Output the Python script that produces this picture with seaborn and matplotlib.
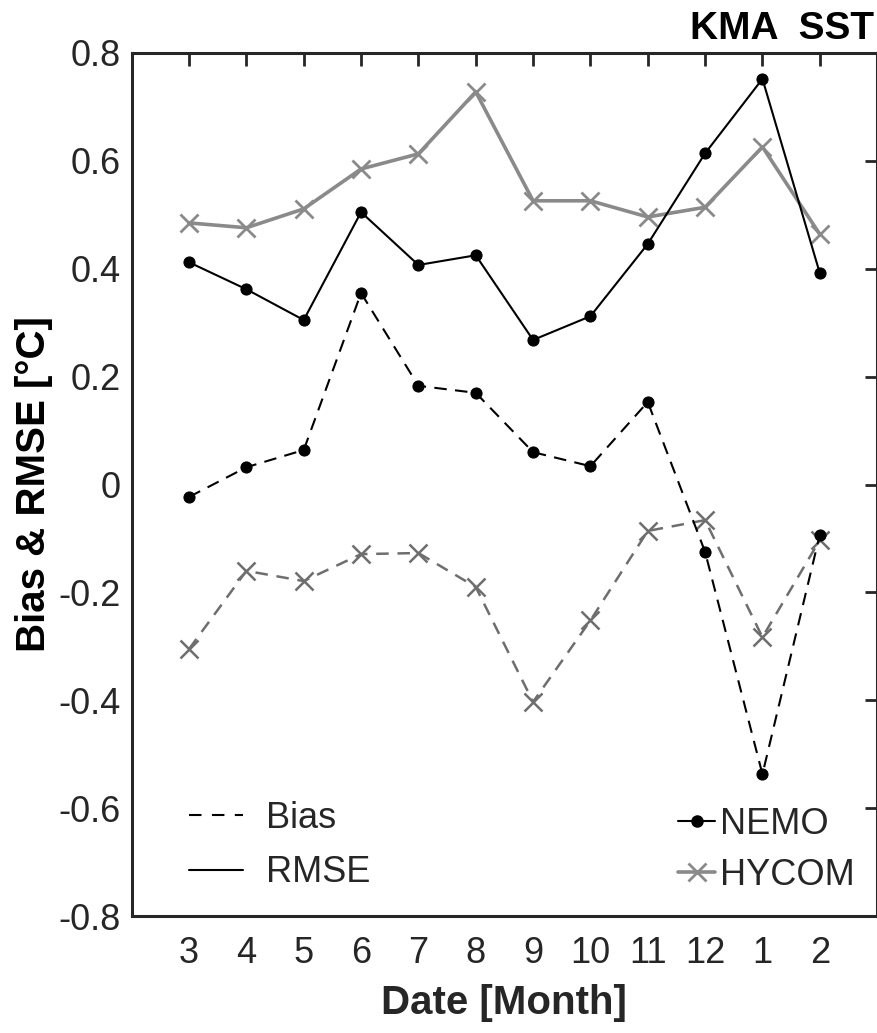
import matplotlib
matplotlib.use("Agg")
import matplotlib.pyplot as plt
import seaborn as sns
import numpy as np
import pandas as pd
from matplotlib.lines import Line2D

months = ["3", "4", "5", "6", "7", "8", "9", "10", "11", "12", "1", "2"]
nemo_rmse = [0.412, 0.362, 0.305, 0.505, 0.407, 0.425, 0.268, 0.312, 0.446, 0.614, 0.752, 0.392]
hycom_rmse = [0.485, 0.476, 0.511, 0.585, 0.613, 0.728, 0.526, 0.526, 0.496, 0.514, 0.626, 0.464]
nemo_bias = [-0.023, 0.032, 0.064, 0.355, 0.183, 0.170, 0.060, 0.034, 0.153, -0.125, -0.537, -0.093]
hycom_bias = [-0.305, -0.160, -0.179, -0.129, -0.127, -0.190, -0.403, -0.252, -0.086, -0.066, -0.283, -0.103]
yticks = [-0.8, -0.6, -0.4, -0.2, 0, 0.2, 0.4, 0.6, 0.8]
ytick_labels = ["-0.8", "-0.6", "-0.4", "-0.2", "0", "0.2", "0.4", "0.6", "0.8"]

sns.set_theme(style="white")
plt.rcParams['font.family'] = ['Liberation Sans', 'DejaVu Sans']

fig = plt.figure(figsize=(8.78, 10.33), dpi=100)
ax = fig.add_axes([0.150, 0.1132, 0.849, 0.8355])

pos = np.arange(1, len(months) + 1)
df = pd.DataFrame({"pos": pos, "nemo_rmse": nemo_rmse, "hycom_rmse": hycom_rmse,
                   "nemo_bias": nemo_bias, "hycom_bias": hycom_bias})

axc = "#262626"
gray_r = "#8a8a8a"
gray_b = "#6e6e6e"

sns.lineplot(data=df, x="pos", y="hycom_rmse", ax=ax, color=gray_r, lw=2.6,
             marker="x", markersize=13, markeredgewidth=2.0, markeredgecolor=gray_r)
sns.lineplot(data=df, x="pos", y="nemo_rmse", ax=ax, color="black", lw=1.5,
             marker="o", markersize=8, markeredgecolor="black")
sns.lineplot(data=df, x="pos", y="hycom_bias", ax=ax, color=gray_b, lw=1.8,
             marker="x", markersize=13, markeredgewidth=1.8, markeredgecolor=gray_b,
             linestyle=(0, (5, 3.5)))
sns.lineplot(data=df, x="pos", y="nemo_bias", ax=ax, color="black", lw=1.5,
             marker="o", markersize=8, markeredgecolor="black", linestyle=(0, (6, 4)))

ax.set_xlim(0, 13)
ax.set_ylim(-0.8, 0.8)
ax.set_xticks(pos)
ax.set_xticklabels(months)
ax.set_yticks(yticks)
ax.set_yticklabels(ytick_labels)
ax.tick_params(axis="both", direction="in", length=9, width=2, colors=axc,
               labelsize=26, top=True, right=True, pad=8)
ax.tick_params(axis="x", pad=14)
for s in ax.spines.values():
    s.set_color(axc)
    s.set_linewidth(2.2)
    s.set_visible(True)

ax.set_xlabel("Date [Month]", fontsize=29, fontweight="bold", color=axc, labelpad=10)
ax.set_ylabel("Bias & RMSE [°C]", fontsize=29, fontweight="bold", color="black", labelpad=4)

fig.text(0.995, 0.972, "KMA  SST", ha="right", va="center", fontsize=28,
         fontweight="bold", color="black")

h1 = [Line2D([], [], color="black", lw=1.5, linestyle=(0, (6, 5))),
      Line2D([], [], color="black", lw=1.5)]
leg1 = ax.legend(h1, ["Bias", "RMSE"], loc="lower left", bbox_to_anchor=(0.077, 0.03),
                 frameon=False, fontsize=26, handlelength=1.5, handletextpad=0.62,
                 labelspacing=0.53, borderpad=0, borderaxespad=0)
ax.add_artist(leg1)
h2 = [Line2D([], [], color="black", lw=1.5, marker="o", markersize=8),
      Line2D([], [], color=gray_r, lw=2.6, marker="x", markersize=13, markeredgewidth=2.0)]
ax.legend(h2, ["NEMO", "HYCOM"], loc="lower right", bbox_to_anchor=(0.97, 0.027),
          frameon=False, fontsize=26, handlelength=1.0, handletextpad=0.15,
          labelspacing=0.45, borderpad=0, borderaxespad=0)

fig.savefig("out.png", dpi=100)
